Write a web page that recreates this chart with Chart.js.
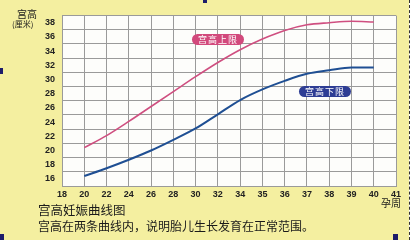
<!DOCTYPE html>
<html>
<head>
<meta charset="utf-8">
<script src="https://cdn.jsdelivr.net/npm/chart.js@4"></script>
<style>
  html, body { margin: 0; padding: 0; }
  body { width: 414px; height: 240px; background: #f4efa0; position: relative; overflow: hidden;
         font-family: "Noto Sans CJK SC", "Noto Sans", sans-serif; }
  #wrap { position: absolute; left: 0; top: 0; width: 414px; height: 240px; }
  .t { position: absolute; white-space: nowrap; color: #1a1a1a; line-height: 1; }
  .pill { position: absolute; color: #fff; font-size: 9px; line-height: 11px; height: 11px;
          padding: 0 6px; border-radius: 6px; letter-spacing: 1px; }
  .mark { position: absolute; background: #1c1c6a; }
</style>
</head>
<body>
<div id="wrap"><canvas id="myChart" width="414" height="240"></canvas></div>
<div class="t" style="left:17px;top:9px;font-size:10px;">宫高</div>
<div class="t" style="left:12px;top:20px;font-size:8px;">(厘米)</div>
<div class="t" style="left:381px;top:198px;font-size:10px;">孕周</div>
<div class="t" style="left:38px;top:204px;font-size:12.5px;">宫高妊娠曲线图</div>
<div class="t" style="left:38px;top:220px;font-size:12px;">宫高在两条曲线内，说明胎儿生长发育在正常范围。</div>
<div class="pill" style="left:192px;top:34px;background:#d2497c;">宫高上限</div>
<div class="pill" style="left:299px;top:86px;background:#2e3d94;">宫高下限</div>
<div style="position:absolute;left:409px;top:0;width:5px;height:240px;background:#fff;border-left:1px dashed #333;"></div>
<div class="mark" style="left:203px;top:0;width:4px;height:3px;"></div>
<div class="mark" style="left:0;top:68px;width:3px;height:6px;"></div>
<div class="mark" style="left:0;top:234px;width:4px;height:6px;"></div>
<div class="mark" style="left:393px;top:234px;width:5px;height:6px;"></div>
<script>
// 孕周 (x tick labels, evenly spaced on the chart)
const weeks = ["18", "20", "22", "24", "26", "28", "30", "32", "34", "35", "36", "37", "38", "39", "40", "41"];
// 宫高上限 / 宫高下限 (cm)
const upperLimit = [null, 20.4, 22.1, 24.1, 26.2, 28.3, 30.4, 32.4, 34.2, 35.7, 36.9, 37.7, 38.0, 38.2, 38.1, null];
const lowerLimit = [null, 16.4, 17.5, 18.7, 20.0, 21.5, 23.1, 25.1, 27.1, 28.6, 29.8, 30.8, 31.3, 31.7, 31.7, null];

const GRID = "#9a9a9a";

// white plot background
const plotBg = {
  id: "plotBg",
  beforeDraw(chart) {
    const { ctx, chartArea: a } = chart;
    ctx.save();
    ctx.fillStyle = "#fdfdfb";
    ctx.fillRect(a.left, a.top, a.right - a.left, a.bottom - a.top);
    ctx.restore();
  },
};

const data = {
  labels: weeks,
  datasets: [
    {
      label: "宫高上限",
      data: upperLimit,
      borderColor: "#cf4f80",
      borderWidth: 1.6,
      pointRadius: 0,
      tension: 0.4,
      cubicInterpolationMode: "monotone",
    },
    {
      label: "宫高下限",
      data: lowerLimit,
      borderColor: "#1f4f93",
      borderWidth: 2,
      pointRadius: 0,
      tension: 0.4,
      cubicInterpolationMode: "monotone",
    },
  ],
};

const config = {
  type: "line",
  data: data,
  plugins: [plotBg],
  options: {
    responsive: false,
    animation: false,
    layout: { padding: { left: 0, right: 18, top: 15.6, bottom: 0 } },
    plugins: {
      legend: { display: false },
      tooltip: { enabled: false },
    },
    scales: {
      x: {
        offset: false,
        afterFit: (s) => { s.height = 54; },
        grid: { color: GRID, drawTicks: false },
        border: { color: GRID },
        ticks: {
          autoSkip: false,
          maxRotation: 0,
          padding: 3,
          color: "#222",
          font: { family: "Liberation Sans", size: 9, weight: "bold" },
        },
      },
      y: {
        min: 15,
        max: 39,
        afterFit: (s) => { s.width = 62; },
        grid: {
          drawTicks: false,
          color: (ctx) => (ctx.tick && Math.abs(ctx.tick.value % 2) === 1 ? GRID : "rgba(0,0,0,0)"),
        },
        border: { color: GRID },
        ticks: {
          stepSize: 1,
          autoSkip: false,
          padding: 7,
          color: "#222",
          font: { family: "Liberation Sans", size: 9, weight: "bold" },
          callback: (v) => (v % 2 === 0 ? v : ""),
        },
      },
    },
  },
};

var myChart = new Chart(document.getElementById("myChart"), config);
</script>
</body>
</html>
